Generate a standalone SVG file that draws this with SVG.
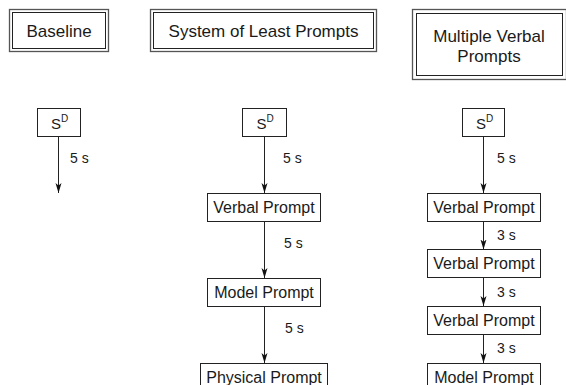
<svg xmlns="http://www.w3.org/2000/svg" width="566" height="385" viewBox="0 0 566 385">
<style>
  .hdo { fill: none; stroke: #555; stroke-width: 1.3; }
  .hdi { fill: none; stroke: #222; stroke-width: 1; }
  .box { fill: #fff; stroke: #222; stroke-width: 1; }
  .ht { font-family: "Liberation Sans", Arial, sans-serif; font-size: 17px; fill: #1a1a1a; text-anchor: middle; }
  .bt { font-family: "Liberation Sans", Arial, sans-serif; font-size: 16px; fill: #1a1a1a; text-anchor: middle; }
  .sd { font-family: "Liberation Sans", Arial, sans-serif; font-size: 15px; fill: #1a1a1a; text-anchor: middle; }
  .lb { font-family: "Liberation Sans", Arial, sans-serif; font-size: 14px; fill: #1a1a1a; }
  .conn { stroke: #222; stroke-width: 1; fill: none; marker-end: url(#arr); }
</style>
<defs>
  <marker id="arr" viewBox="0 0 10 8" refX="10" refY="4" markerWidth="10" markerHeight="8" markerUnits="userSpaceOnUse" orient="auto">
    <path d="M0,1 L10,4 L0,7 L2.5,4 z" fill="#111"/>
  </marker>
</defs>

<g id="hdr-baseline">
  <rect class="hdo" x="9.5" y="9.5" width="99" height="42"/>
  <rect class="hdi" x="12.5" y="12.5" width="93" height="36"/>
  <text class="ht" x="59" y="36.5">Baseline</text>
</g>
<g id="hdr-slp">
  <rect class="hdo" x="150.5" y="9.5" width="226" height="42"/>
  <rect class="hdi" x="153.5" y="12.5" width="220" height="36"/>
  <text class="ht" x="263.5" y="36.5">System of Least Prompts</text>
</g>
<g id="hdr-mvp">
  <rect class="hdo" x="412.5" y="9.5" width="154" height="70"/>
  <rect class="hdi" x="416.5" y="13.5" width="146" height="62"/>
  <text class="ht" x="489" y="42">Multiple Verbal</text>
  <text class="ht" x="489" y="62">Prompts</text>
</g>

<g id="connectors">
  <line class="conn" x1="58.5" y1="136.5" x2="58.5" y2="193"/>
  <line class="conn" x1="264.5" y1="136.5" x2="264.5" y2="193"/>
  <line class="conn" x1="264.5" y1="221.5" x2="264.5" y2="278"/>
  <line class="conn" x1="264.5" y1="306.5" x2="264.5" y2="363"/>
  <line class="conn" x1="483.5" y1="136.5" x2="483.5" y2="193"/>
  <line class="conn" x1="483.5" y1="221.5" x2="483.5" y2="249.5"/>
  <line class="conn" x1="483.5" y1="277.5" x2="483.5" y2="306"/>
  <line class="conn" x1="483.5" y1="334.5" x2="483.5" y2="363"/>
  <text class="lb" x="70" y="163">5 s</text>
  <text class="lb" x="283" y="163">5 s</text>
  <text class="lb" x="284" y="248">5 s</text>
  <text class="lb" x="285" y="332.5">5 s</text>
  <text class="lb" x="497" y="163">5 s</text>
  <text class="lb" x="497" y="240">3 s</text>
  <text class="lb" x="497" y="297">3 s</text>
  <text class="lb" x="497" y="353">3 s</text>
</g>

<g id="b-sd">
  <rect class="box" x="37.5" y="108.5" width="43" height="28"/>
  <text class="sd" x="59.5" y="128.5">S<tspan font-size="10" dy="-7">D</tspan></text>
</g>

<g id="slp-sd">
  <rect class="box" x="242.5" y="108.5" width="44" height="28"/>
  <text class="sd" x="265" y="128.5">S<tspan font-size="10" dy="-7">D</tspan></text>
</g>
<g id="slp-verbal">
  <rect class="box" x="207.5" y="193.5" width="113" height="28"/>
  <text class="bt" x="264" y="213">Verbal Prompt</text>
</g>
<g id="slp-model">
  <rect class="box" x="207.5" y="278.5" width="113" height="28"/>
  <text class="bt" x="264" y="298">Model Prompt</text>
</g>
<g id="slp-physical">
  <rect class="box" x="200.5" y="363.5" width="127" height="28"/>
  <text class="bt" x="264" y="383">Physical Prompt</text>
</g>

<g id="mvp-sd">
  <rect class="box" x="462.5" y="108.5" width="42" height="28"/>
  <text class="sd" x="484.5" y="128.5">S<tspan font-size="10" dy="-7">D</tspan></text>
</g>
<g id="mvp-verbal1">
  <rect class="box" x="427.5" y="193.5" width="113" height="28"/>
  <text class="bt" x="484" y="213">Verbal Prompt</text>
</g>
<g id="mvp-verbal2">
  <rect class="box" x="427.5" y="249.5" width="113" height="28"/>
  <text class="bt" x="484" y="269">Verbal Prompt</text>
</g>
<g id="mvp-verbal3">
  <rect class="box" x="427.5" y="306.5" width="113" height="28"/>
  <text class="bt" x="484" y="326">Verbal Prompt</text>
</g>
<g id="mvp-model">
  <rect class="box" x="427.5" y="363.5" width="113" height="28"/>
  <text class="bt" x="484" y="383">Model Prompt</text>
</g>
</svg>
